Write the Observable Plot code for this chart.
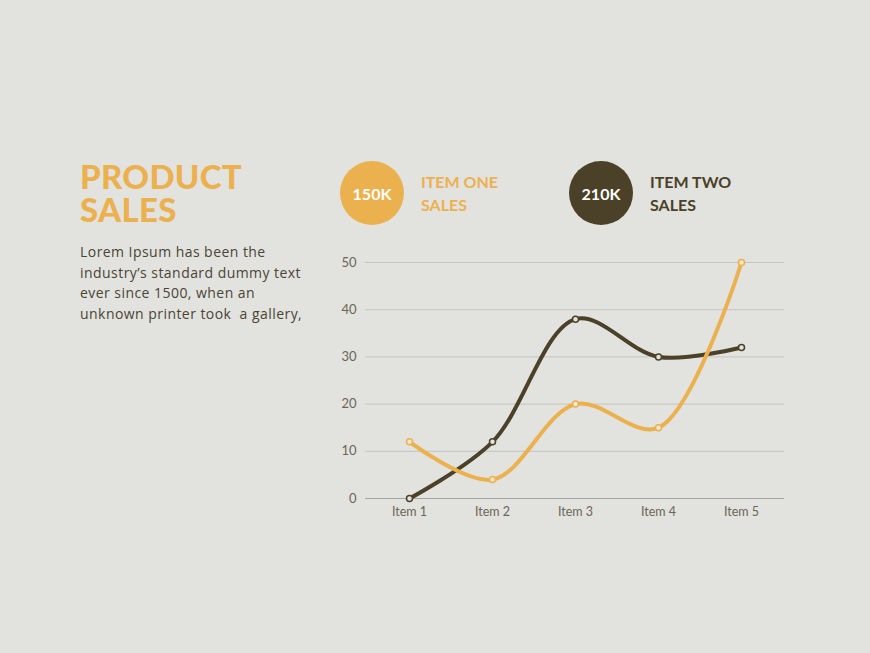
<!DOCTYPE html>
<html><head><meta charset="utf-8">
<script src="https://cdn.jsdelivr.net/npm/d3@7"></script>
<script src="https://cdn.jsdelivr.net/npm/@observablehq/plot@0.6"></script>
<style>
html,body{margin:0;padding:0;}
body{width:870px;height:653px;background:#e2e2df;position:relative;overflow:hidden;font-family:Lato,"Open Sans",sans-serif;}
.title{position:absolute;left:80px;top:160px;color:#ecb14f;font-weight:900;font-size:33px;line-height:33px;letter-spacing:0.3px;}
.body{position:absolute;left:80px;top:242px;color:#4a4535;font-family:"Open Sans",sans-serif;font-size:14px;line-height:20.5px;letter-spacing:0.45px;white-space:nowrap;}
.circ{position:absolute;width:64px;height:64px;border-radius:50%;color:#fff;font-weight:700;font-size:16px;display:flex;align-items:center;justify-content:center;}
.lab{position:absolute;font-weight:700;font-size:16px;line-height:23px;}
#chart{position:absolute;left:320px;top:240px;}
</style></head>
<body>
<div class="title">PRODUCT<br>SALES</div>
<div class="body">Lorem Ipsum has been the<br>industry’s standard dummy text<br>ever since 1500, when an<br>unknown printer took&nbsp; a gallery,</div>
<div class="circ" style="left:340px;top:161px;background:#ecb14f">150K</div>
<div class="lab" style="left:421px;top:170px;color:#ecb14f">ITEM ONE<br>SALES</div>
<div class="circ" style="left:569px;top:161px;background:#4a4128">210K</div>
<div class="lab" style="left:650px;top:170px;color:#4a4128">ITEM TWO<br>SALES</div>
<div id="chart"></div>
<script>
const items = ["Item 1","Item 2","Item 3","Item 4","Item 5"];
const itemOne = [12, 4, 20, 15, 50];
const itemTwo = [0, 12, 38, 30, 32];
const yTicks = [0, 10, 20, 30, 40, 50];

const yellow = "#ecb14f", dark = "#4a4128";
const d1 = items.map((c,i)=>({item:c, v:itemOne[i]}));
const d2 = items.map((c,i)=>({item:c, v:itemTwo[i]}));

const chart = Plot.plot({
  width: 480, height: 290,
  marginLeft: 45, marginRight: 16, marginTop: 22, marginBottom: 32,
  style: {background: "transparent", fontFamily: "Lato, sans-serif", color: "#6b6655"},
  x: {type: "point", domain: items, padding: 0.5, label: null},
  y: {domain: [0, 50], ticks: yTicks, label: null},
  marks: [
    Plot.ruleY(yTicks.filter(t=>t>0), {stroke: "#c4c4c0", strokeWidth: 1}),
    Plot.ruleY([0], {stroke: "#a6a6a0", strokeWidth: 1}),
    Plot.axisY({ticks: yTicks, tickSize: 0, tickPadding: 9, fontSize: 13, label: null}),
    Plot.axisX({tickSize: 0, tickPadding: 9, fontSize: 12.5, label: null}),
    Plot.line(d2, {x: "item", y: "v", stroke: dark, strokeWidth: 4, curve: "catmull-rom"}),
    Plot.line(d1, {x: "item", y: "v", stroke: yellow, strokeWidth: 4, curve: "catmull-rom"}),
    Plot.dot(d2, {x: "item", y: "v", r: 3, stroke: dark, strokeWidth: 1.5, fill: "#e2e2df"}),
    Plot.dot(d1, {x: "item", y: "v", r: 3, stroke: yellow, strokeWidth: 1.5, fill: "#f3e6cf"})
  ]
});
document.getElementById("chart").appendChild(chart);
</script>
</body></html>
